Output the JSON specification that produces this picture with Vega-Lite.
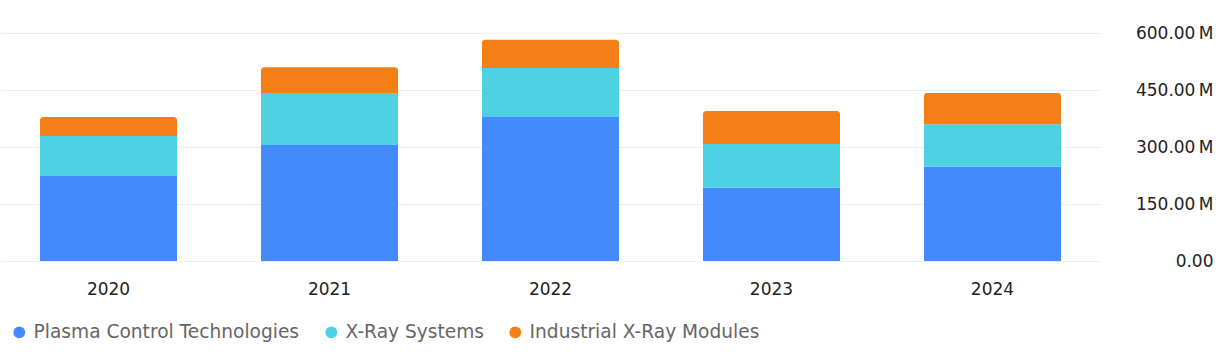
{
  "$schema": "https://vega.github.io/schema/vega-lite/v6.json",
  "width": 1101,
  "height": 228,
  "autosize": {"type": "none"},
  "padding": {"left": 0, "top": 33, "right": 124, "bottom": 97},
  "background": "white",
  "config": {"view": {"stroke": null}, "font": "DejaVu Sans"},
  "data": {
    "values": [
      {"year": "2020", "series": "Plasma Control Technologies", "order": 1, "value": 224},
      {"year": "2020", "series": "X-Ray Systems", "order": 2, "value": 105},
      {"year": "2020", "series": "Industrial X-Ray Modules", "order": 3, "value": 50},
      {"year": "2021", "series": "Plasma Control Technologies", "order": 1, "value": 305},
      {"year": "2021", "series": "X-Ray Systems", "order": 2, "value": 137},
      {"year": "2021", "series": "Industrial X-Ray Modules", "order": 3, "value": 68},
      {"year": "2022", "series": "Plasma Control Technologies", "order": 1, "value": 379},
      {"year": "2022", "series": "X-Ray Systems", "order": 2, "value": 129},
      {"year": "2022", "series": "Industrial X-Ray Modules", "order": 3, "value": 74},
      {"year": "2023", "series": "Plasma Control Technologies", "order": 1, "value": 193},
      {"year": "2023", "series": "X-Ray Systems", "order": 2, "value": 115},
      {"year": "2023", "series": "Industrial X-Ray Modules", "order": 3, "value": 87},
      {"year": "2024", "series": "Plasma Control Technologies", "order": 1, "value": 248},
      {"year": "2024", "series": "X-Ray Systems", "order": 2, "value": 112},
      {"year": "2024", "series": "Industrial X-Ray Modules", "order": 3, "value": 82}
    ]
  },
  "transform": [
    {"stack": "value", "groupby": ["year"], "sort": [{"field": "order", "order": "ascending"}], "as": ["v0", "v1"]}
  ],
  "encoding": {
    "x": {
      "field": "year", "type": "nominal",
      "scale": {"paddingInner": 0.38, "paddingOuter": 0.181},
      "axis": {"title": null, "domain": false, "ticks": false, "labelAngle": 0, "labelPadding": 20, "labelFontSize": 17, "labelColor": "#222222", "grid": false}
    },
    "y": {
      "field": "v1", "type": "quantitative",
      "scale": {"domain": [0, 600], "nice": false},
      "axis": {
        "title": null, "orient": "right", "grid": true, "gridColor": "#eeeeee", "gridWidth": 1,
        "domain": false, "ticks": false, "labelAlign": "right", "labelPadding": 112,
        "values": [0, 150, 300, 450, 600], "labelFontSize": 17, "labelColor": "#222222",
        "labelExpr": "datum.value == 0 ? '0.00' : format(datum.value, '.2f') + '\u2009M'"
      }
    },
    "y2": {"field": "v0"},
    "color": {
      "field": "series", "type": "nominal",
      "scale": {
        "domain": ["Plasma Control Technologies", "X-Ray Systems", "Industrial X-Ray Modules"],
        "range": ["#448AFF", "#4DD0E1", "#F57F17"]
      },
      "legend": {
        "title": null, "orient": "none", "legendX": 10, "legendY": 290, "direction": "horizontal",
        "symbolType": "circle", "symbolSize": 140, "symbolStrokeWidth": 0, "labelFontSize": 18.6,
        "labelColor": "#666666", "columnPadding": 22, "labelOffset": 5, "padding": 0, "labelLimit": 500
      }
    }
  },
  "layer": [
    {
      "transform": [{"filter": "datum.series != 'Industrial X-Ray Modules'"}],
      "mark": {"type": "bar"}
    },
    {
      "transform": [{"filter": "datum.series == 'Industrial X-Ray Modules'"}],
      "mark": {"type": "bar", "cornerRadiusTopLeft": 3, "cornerRadiusTopRight": 3}
    }
  ]
}
